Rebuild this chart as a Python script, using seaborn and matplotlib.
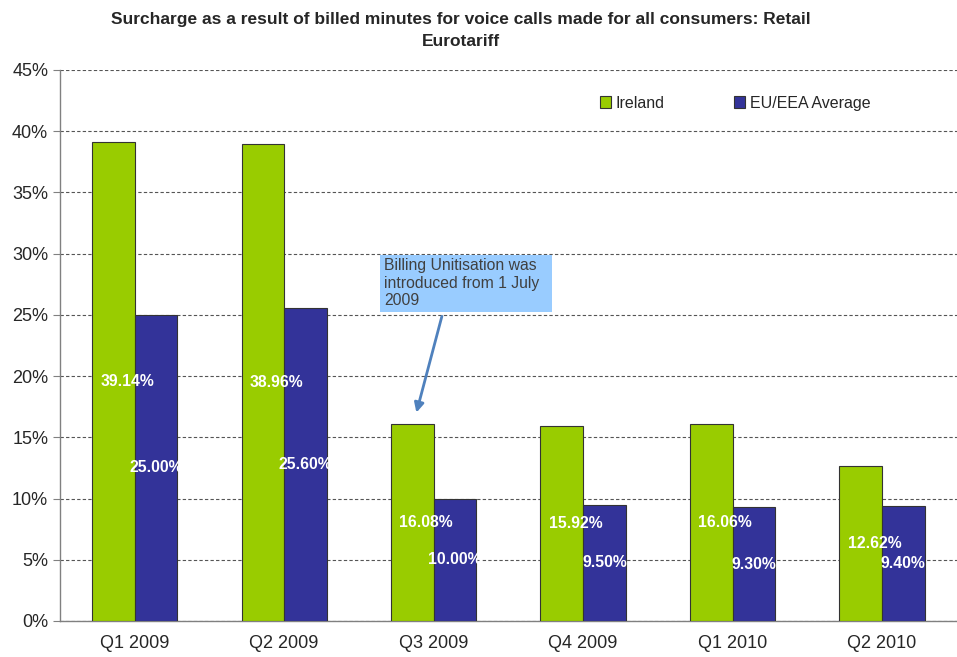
import pandas as pd
import numpy as np
import seaborn as sns
import matplotlib.pyplot as plt
from matplotlib.patches import Rectangle
from matplotlib.ticker import PercentFormatter, FixedLocator

# Chart data
quarters = ["Q1 2009", "Q2 2009", "Q3 2009", "Q4 2009", "Q1 2010", "Q2 2010"]
ireland = [39.14, 38.96, 16.08, 15.92, 16.06, 12.62]
eu_average = [25.00, 25.60, 10.00, 9.50, 9.30, 9.40]
series_names = ["Ireland", "EU/EEA Average"]
palette = ["#99CC00", "#333399"]

df = pd.DataFrame({
    "quarter": quarters * 2,
    "value": ireland + eu_average,
    "series": [series_names[0]] * len(quarters) + [series_names[1]] * len(quarters),
})

sns.set_style("white")
plt.rcParams["font.family"] = ["Liberation Sans", "DejaVu Sans"]

fig = plt.figure(figsize=(9.57, 6.57), dpi=100)
ax = fig.add_axes([0.0627, 0.0548, 0.937, 0.8387])

sns.barplot(
    data=df, x="quarter", y="value", hue="series",
    palette=palette, saturation=1, width=0.57,
    edgecolor="#333333", linewidth=0.8, ax=ax, zorder=3,
)

ax.set_xlim(-0.5, len(quarters) - 0.5)
ax.set_ylim(0, 45)
ax.set_yticks(np.arange(0, 46, 5))
ax.yaxis.set_major_formatter(PercentFormatter(decimals=0))
ax.grid(axis="y", linestyle=(0, (3, 2)), color="#555555", linewidth=0.8, zorder=0)
ax.set_xlabel("")
ax.set_ylabel("")

for side in ["top", "right"]:
    ax.spines[side].set_visible(False)
for side in ["left", "bottom"]:
    ax.spines[side].set_color("#808080")
    ax.spines[side].set_linewidth(1)

# x ticks at the category boundaries, labels at centres
ax.set_xticks(range(len(quarters)))
ax.set_xticklabels(quarters, fontsize=13)
ax.tick_params(axis="x", length=0, pad=10)
ax.xaxis.set_minor_locator(FixedLocator(np.arange(-0.5, len(quarters), 1)))
ax.tick_params(axis="x", which="minor", length=5, color="#808080", direction="out")
ax.tick_params(axis="y", labelsize=13, length=5, color="#808080", direction="out", left=True)

# value labels in the middle of each bar
for container, dx in zip(ax.containers, [10, 0]):
    for bar in container:
        h = bar.get_height()
        ax.annotate(
            f"{h:.2f}%", (bar.get_x() + bar.get_width() / 2, h / 2),
            xytext=(dx, 0), textcoords="offset points",
            ha="center", va="center", color="white",
            fontsize=11.3, fontweight="bold", zorder=5,
        )

ax.legend(
    loc="center left", bbox_to_anchor=(0.595, 0.94), ncol=2, frameon=False,
    borderaxespad=0, fontsize=11.5, handlelength=0.7, handleheight=0.7,
    handletextpad=0.3, columnspacing=4.3,
)

# callout about billing unitisation
ax.add_patch(Rectangle((1.64, 25.24), 1.153, 4.65, facecolor="#99CCFF",
                       edgecolor="none", zorder=6))
ax.text(
    1.67, 29.65, "Billing Unitisation was\nintroduced from 1 July\n2009",
    ha="left", va="top", fontsize=11.3, color="#404040", linespacing=1.22,
    zorder=7,
)
ax.annotate(
    "", xy=(1.88, 16.8), xytext=(2.06, 25.1),
    arrowprops=dict(arrowstyle="-|>", color="#4F81BD", lw=2, mutation_scale=14),
    zorder=6,
)

fig.suptitle(
    "Surcharge as a result of billed minutes for voice calls made for all consumers: Retail\nEurotariff",
    x=0.482, y=0.982, fontsize=12.5, fontweight="bold", linespacing=1.6,
)

plt.savefig("out.png", dpi=100)
plt.close()
